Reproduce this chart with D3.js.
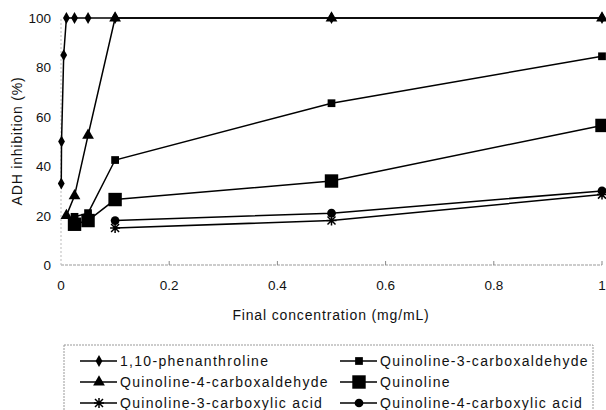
<!DOCTYPE html>
<html>
<head>
<meta charset="utf-8">
<script src="https://cdn.jsdelivr.net/npm/d3@7"></script>
<style>
  body { margin: 0; background: #fff; }
  text { font-family: "Liberation Sans", Arial, sans-serif; fill: #111; }
</style>
</head>
<body>
<svg id="chart"></svg>
<script>
// data (x in mg/mL, y in % inhibition)
const seriesNames = ["1,10-phenanthroline", "Quinoline-3-carboxaldehyde", "Quinoline-4-carboxaldehyde",
    "Quinoline", "Quinoline-3-carboxylic acid", "Quinoline-4-carboxylic acid"];
const phenX = [0.0005, 0.001, 0.005, 0.01, 0.025, 0.05, 0.1, 0.5, 1];
const phenY = [33, 50, 85, 100, 100, 100, 100, 100, 100];
const q3aldX = [0.025, 0.05, 0.1, 0.5, 1];
const q3aldY = [19.5, 21, 42.5, 65.5, 84.5];
const q4aldX = [0.01, 0.025, 0.05, 0.1, 0.5, 1];
const q4aldY = [20, 28, 52.5, 100, 100, 100];
const quinX = [0.025, 0.05, 0.1, 0.5, 1];
const quinY = [16.5, 18, 26.5, 34, 56.5];
const q3acX = [0.1, 0.5, 1];
const q3acY = [15, 18, 28.5];
const q4acX = [0.1, 0.5, 1];
const q4acY = [18, 21, 30];
const xTicks = [0, 0.2, 0.4, 0.6, 0.8, 1];
const yTicks = [0, 20, 40, 60, 80, 100];

const W = 606, H = 410;
const svg = d3.select('#chart').attr('width', W).attr('height', H);

const x = d3.scaleLinear().domain([0, 1]).range([61, 602]);
const y = d3.scaleLinear().domain([0, 100]).range([265, 18]);

// axes: faint dotted lines like the scan
svg.append('line')
    .attr('x1', x(0)).attr('x2', x(1))
    .attr('y1', y(0)).attr('y2', y(0))
    .attr('stroke', '#999').attr('stroke-dasharray', '3,1');
svg.append('line')
    .attr('x1', x(0)).attr('x2', x(0))
    .attr('y1', y(0)).attr('y2', y(100))
    .attr('stroke', '#bbb').attr('stroke-dasharray', '2,2');

svg.selectAll('.xtick')
    .data(xTicks.slice(1))
    .enter()
    .append('line')
    .attr('x1', d => x(d)).attr('x2', d => x(d))
    .attr('y1', y(0)).attr('y2', y(0) - 4)
    .attr('stroke', '#888');

svg.selectAll('.xlab')
    .data(xTicks)
    .enter()
    .append('text')
    .attr('x', d => x(d))
    .attr('y', 290)
    .attr('text-anchor', 'middle')
    .attr('font-size', 13.5)
    .text(d => d);

svg.selectAll('.ylab')
    .data(yTicks)
    .enter()
    .append('text')
    .attr('x', 51)
    .attr('y', d => y(d) + 5)
    .attr('text-anchor', 'end')
    .attr('font-size', 13.5)
    .text(d => d);

svg.append('text')
    .attr('x', 331).attr('y', 320)
    .attr('text-anchor', 'middle')
    .attr('font-size', 14)
    .attr('letter-spacing', 0.85)
    .text('Final concentration (mg/mL)');

svg.append('text')
    .attr('transform', 'translate(22,141) rotate(-90)')
    .attr('text-anchor', 'middle')
    .attr('font-size', 14)
    .attr('letter-spacing', 0.8)
    .text('ADH inhibition (%)');

// marker shapes
const markers = {
    diamond: d3.symbol().type(d3.symbolDiamond).size(40)(),
    triangle: d3.symbol().type(d3.symbolTriangle).size(60)(),
    square: d3.symbol().type(d3.symbolSquare).size(60)(),
    bigSquare: d3.symbol().type(d3.symbolSquare).size(180)(),
    star: 'M-4,-4L4,4M-4,4L4,-4M0,-5L0,5M-5,0L5,0',
    circle: d3.symbol().type(d3.symbolCircle).size(60)()
};

const series = [
    { name: seriesNames[0], xs: phenX, ys: phenY, marker: 'diamond' },
    { name: seriesNames[1], xs: q3aldX, ys: q3aldY, marker: 'square' },
    { name: seriesNames[2], xs: q4aldX, ys: q4aldY, marker: 'triangle' },
    { name: seriesNames[3], xs: quinX, ys: quinY, marker: 'bigSquare' },
    { name: seriesNames[4], xs: q3acX, ys: q3acY, marker: 'star' },
    { name: seriesNames[5], xs: q4acX, ys: q4acY, marker: 'circle' }
];

function drawMarker(g, m, px, py) {
    let p = g.append('path')
        .attr('d', markers[m])
        .attr('transform', 'translate(' + px + ',' + py + ')');
    if (m === 'star') {
        p.attr('fill', 'none').attr('stroke', '#000').attr('stroke-width', 1.5);
    } else {
        p.attr('fill', '#000');
    }
}

const line = d3.line().x(d => x(d[0])).y(d => y(d[1]));
const plot = svg.append('g');
series.forEach(s => {
    let pts = s.xs.map((v, i) => [v, s.ys[i]]);
    plot.append('path')
        .attr('d', line(pts))
        .attr('fill', 'none')
        .attr('stroke', '#000')
        .attr('stroke-width', 1.5);
});
series.forEach(s => {
    s.xs.forEach((v, i) => drawMarker(plot, s.marker, x(v), y(s.ys[i])));
});

// legend
svg.append('rect')
    .attr('x', 64).attr('y', 345)
    .attr('width', 529).attr('height', 90)
    .attr('fill', 'none')
    .attr('stroke', '#999')
    .attr('stroke-dasharray', '2,1');

const legCols = [80, 340];
const legRows = [361, 382, 403];
const legend = svg.selectAll('.legend')
    .data(series)
    .enter()
    .append('g')
    .attr('transform', (d, i) => 'translate(' + legCols[i % 2] + ',' + legRows[Math.floor(i / 2)] + ')');
legend.append('line')
    .attr('x1', 0).attr('x2', 37)
    .attr('y1', 0).attr('y2', 0)
    .attr('stroke', '#000').attr('stroke-width', 1.5);
legend.each(function (d) {
    drawMarker(d3.select(this), d.marker, 19, 0);
});
legend.append('text')
    .attr('x', 40)
    .attr('y', 5)
    .attr('font-size', 14)
    .attr('letter-spacing', 1.3)
    .text(d => d.name);
</script>
</body>
</html>
